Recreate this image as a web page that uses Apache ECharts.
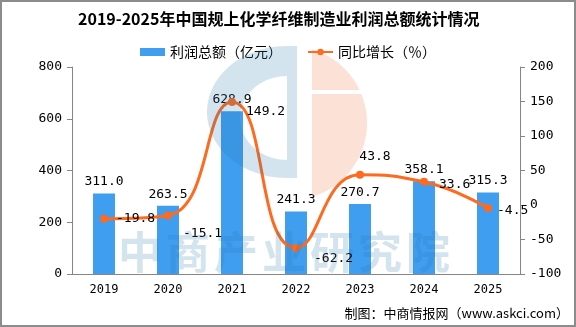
<!DOCTYPE html>
<html>
<head>
<meta charset="utf-8">
<script src="https://cdn.jsdelivr.net/npm/echarts@6/dist/echarts.min.js"></script>
<style>
html,body{margin:0;padding:0;background:#fff;}
#wrap{position:relative;width:576px;height:327px;}
#chart{position:absolute;left:0;top:0;width:576px;height:327px;}
#frame{position:absolute;left:0;top:0;width:576px;height:327px;box-sizing:border-box;border:2px solid #8c8c8c;pointer-events:none;}
</style>
</head>
<body>
<div id="wrap"><div id="chart"></div><div id="frame"></div></div>
<script>
var years = ['2019', '2020', '2021', '2022', '2023', '2024', '2025'];
var profit = [311.0, 263.5, 628.9, 241.3, 270.7, 358.1, 315.3];
var growth = [-19.8, -15.1, 149.2, -62.2, 43.8, 33.6, -4.5];
var leftTicks = [0, 800, 200];
var rightTicks = [-100, 200, 50];

var titleText = '2019-2025年中国规上化学纤维制造业利润总额统计情况';
var seriesNames = ['利润总额（亿元）', '同比增长（％）'];
var footer = '制图：中商情报网（www.askci.com）';
var watermark = '中商产业研究院';

var CJK = '"Noto Sans CJK SC", sans-serif';
var MONO = '"DejaVu Sans Mono", monospace';
var BLUE = '#3f9ef0';
var ORANGE = '#ff6a1e';
var WM_BLUE = 'rgba(40,120,170,0.2)';
var WM_ORANGE = 'rgba(240,120,70,0.22)';

// per-point label placement for the growth line
var lineLabelPos = [
  {position: 'right', offset: [0, 0]},
  {position: 'right', offset: [3, 18]},
  {position: 'right', offset: [2, 10]},
  {position: 'right', offset: [6, 11]},
  {position: 'top', offset: [15, 0]},
  {position: 'right', offset: [3, 3]},
  {position: 'right', offset: [-3, 3]}
];

var lineData = growth.map(function (v, i) {
  return {value: v, label: lineLabelPos[i]};
});

// ---- watermark logo shapes (decoration only) ----
function ellArc(cx, cy, rx, ry, a0, a1, n) {
  var pts = [];
  for (var k = 0; k <= n; k++) {
    var a = a0 + (a1 - a0) * k / n;
    pts.push([cx + rx * Math.cos(a), cy + ry * Math.sin(a)]);
  }
  return pts;
}
var cOuter = ellArc(287, 112, 80, 66, -Math.PI / 2, -Math.PI * 1.5, 40);
var cInner = ellArc(287, 118, 47, 42, Math.PI / 2, Math.PI * 1.5, 40);
var cRing = cOuter.concat(cInner);
function capPts(cx, cy, r, xCut, y0, y1, n) {
  var pts = [];
  for (var k = 0; k <= n; k++) {
    var y = y0 + (y1 - y0) * k / n;
    var dx = Math.sqrt(Math.max(0, r * r - (y - cy) * (y - cy)));
    pts.push([Math.max(xCut, cx + dx), y]);
  }
  pts.push([xCut, y1]);
  pts.push([xCut, y0]);
  return pts;
}
var capTop = capPts(290, 123, 77, 312, 49, 90, 20);
var capBot = capPts(290, 123, 77, 312, 94, 197, 40);

var wmGraphics = [
  {type: 'polygon', z: 100, silent: true, shape: {points: cRing}, style: {fill: WM_BLUE}},
  {type: 'rect', z: 100, silent: true, shape: {x: 287, y: 46, width: 10, height: 132}, style: {fill: WM_BLUE}},
  {type: 'polygon', z: 100, silent: true, shape: {points: capTop}, style: {fill: WM_ORANGE}},
  {type: 'polygon', z: 100, silent: true, shape: {points: capBot}, style: {fill: WM_ORANGE}}
];
watermark.split('').forEach(function (ch, i) {
  wmGraphics.push({
    type: 'text', z: 100, silent: true,
    left: 118 + 48 * i, top: 230,
    style: {text: ch, font: 'bold 44px ' + CJK, fill: WM_BLUE}
  });
});
wmGraphics.push({
  type: 'text', right: 7, top: 307,
  style: {text: footer, font: '13px ' + CJK, fill: '#000'}
});

var chart = echarts.init(document.getElementById('chart'), null, {renderer: 'canvas'});
chart.setOption({
  animation: false,
  backgroundColor: '#fff',
  title: {
    text: titleText, left: 78, top: 11, padding: 0,
    textStyle: {fontFamily: CJK, fontWeight: 'bold', fontSize: 16, color: '#000'}
  },
  legend: {
    top: 45, left: 'center', padding: 0, itemGap: 25,
    itemWidth: 25, itemHeight: 8,
    textStyle: {fontFamily: CJK, fontSize: 14, color: '#000'},
    data: [{name: seriesNames[0], icon: 'rect'}, {name: seriesNames[1]}]
  },
  grid: {left: 72, right: 56, top: 67, bottom: 53},
  xAxis: {
    type: 'category', data: years,
    axisLine: {lineStyle: {color: '#868686'}},
    axisTick: {length: 5, lineStyle: {color: '#868686'}},
    axisLabel: {fontFamily: MONO, fontSize: 12, color: '#000', margin: 10}
  },
  yAxis: [
    {type: 'value', min: leftTicks[0], max: leftTicks[1], interval: leftTicks[2],
     splitLine: {show: false},
     axisLine: {show: true, lineStyle: {color: '#868686'}},
     axisTick: {show: true, length: 5, lineStyle: {color: '#868686'}},
     axisLabel: {fontFamily: MONO, fontSize: 13, color: '#000', margin: 10}},
    {type: 'value', min: rightTicks[0], max: rightTicks[1], interval: rightTicks[2],
     splitLine: {show: false},
     axisLine: {show: true, lineStyle: {color: '#868686'}},
     axisTick: {show: true, length: 5, lineStyle: {color: '#868686'}},
     axisLabel: {fontFamily: MONO, fontSize: 13, color: '#000', margin: 10}}
  ],
  series: [
    {name: seriesNames[0], type: 'bar', data: profit, barWidth: 22,
     itemStyle: {color: BLUE},
     label: {show: true, position: 'top', distance: 5, fontFamily: MONO, fontSize: 13, color: '#000',
             formatter: function (p) { return p.value.toFixed(1); }}},
    {name: seriesNames[1], type: 'line', yAxisIndex: 1, data: lineData,
     smooth: 0.5, symbol: 'circle', symbolSize: 8,
     lineStyle: {color: ORANGE, width: 3}, itemStyle: {color: ORANGE},
     label: {show: true, distance: 8, fontFamily: MONO, fontSize: 13, color: '#000',
             formatter: function (p) { return p.value.toFixed(1); }}}
  ],
  graphic: wmGraphics
});
</script>
</body>
</html>
